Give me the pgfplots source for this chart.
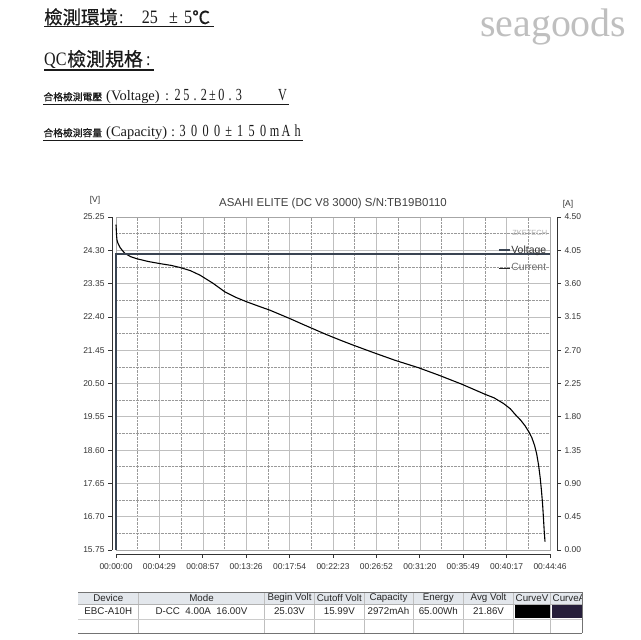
\documentclass[border=0pt]{standalone}
\usepackage{fontspec}
\setmainfont{Liberation Sans}
\newfontfamily\cjk[FakeBold=0.6]{Noto Sans CJK TC}
\newfontfamily\cjks[FakeBold=0.4]{Noto Sans CJK TC}
\newfontfamily\lser{Liberation Serif}
\newfontfamily\lsern[FakeStretch=0.85]{Liberation Serif}
\newfontfamily\lserc[FakeStretch=0.72]{Liberation Serif}
\usepackage{pgfplots}
\pgfplotsset{compat=1.18}
\definecolor{curc}{HTML}{3A4452}
\definecolor{hdrfill}{HTML}{E3E7EC}
\definecolor{curA}{HTML}{261E3A}
\definecolor{txt}{HTML}{1A1A1A}
\newcommand\C[2][8.75bp]{\makebox[#1][c]{#2}}
\begin{document}
\begin{tikzpicture}[x=1bp,y=1bp]
\fill[white] (0,0) rectangle (640,640);
\path[use as bounding box] (0,0) rectangle (640,640);

% ---------- header text ----------
\begin{scope}[every node/.style={inner sep=0pt, anchor=base west, text=txt}]
% line 1
\node at (44,616) {\cjk\fontsize{18.5}{19}\selectfont 檢測環境};
\node at (119,616) {\lsern\fontsize{19}{19}\selectfont :};
\node at (141.7,616) {\lsern\fontsize{19}{19}\selectfont 25};
\node at (169,616) {\lsern\fontsize{19}{19}\selectfont ±};
\node at (184,616) {\lsern\fontsize{19}{19}\selectfont 5};
\node at (192,616) {\cjks\fontsize{18}{19}\selectfont ℃};
% line 2
\node at (44,574) {\lsern\fontsize{19}{19}\selectfont QC};
\node at (67,574) {\cjk\fontsize{19}{19}\selectfont 檢測規格};
\node at (146,574) {\lsern\fontsize{19}{19}\selectfont :};
% line 3
\node at (43.3,539.5) {\cjks\fontsize{9.8}{10}\selectfont 合格檢測電壓};
\node at (106,539.5) {\lser\fontsize{14.5}{15}\selectfont (Voltage)};
\node at (165,539.5) {\lser\fontsize{14.5}{15}\selectfont :};
\node at (173,539.5) {\lserc\fontsize{17}{17}\selectfont \C{2}\C{5}\C{.}\C{2}\C{±}\C{0}\C{.}\C{3}};
\node at (278,539.5) {\lserc\fontsize{17}{17}\selectfont V};
% line 4
\node at (43.3,503.5) {\cjks\fontsize{9.8}{10}\selectfont 合格檢測容量};
\node at (106,503.5) {\lser\fontsize{14.5}{15}\selectfont (Capacity)};
\node at (171,503.5) {\lser\fontsize{14.5}{15}\selectfont :};
\node at (176.7,503.5) {\lserc\fontsize{17}{17}\selectfont \C[11.5bp]{3}\C[11.5bp]{0}\C[11.5bp]{0}\C[11.5bp]{0}\C[11.5bp]{±}\C[11.5bp]{1}\C[11.5bp]{5}\C[11.5bp]{0}\C[11.5bp]{m}\C[11.5bp]{A}\C[11.5bp]{h}};
% watermark
\node[text=black!25] at (480,603) {\lser\fontsize{40}{40}\selectfont seagoods};
\end{scope}
\draw[txt, line width=1.1bp] (44,613.3) -- (214,613.3);
\draw[txt, line width=1.1bp] (44,570) -- (154,570);
\draw[txt, line width=0.9bp] (43,536) -- (289,536);
\draw[txt, line width=0.9bp] (43,500) -- (303,500);

% ---------- chart titles ----------
\node[text=black!75, font=\fontsize{11.5}{12}\selectfont] at (333,436) {ASAHI ELITE (DC V8 3000) S/N:TB19B0110};
\node[text=black!80, font=\fontsize{8.5}{9}\selectfont] at (95,440) {[V]};
\node[text=black!80, font=\fontsize{8.5}{9}\selectfont] at (568,436) {[A]};

% ---------- voltage axis ----------
\begin{axis}[
  at={(116bp,90bp)}, anchor=south west,
  width=434bp, height=333bp, scale only axis,
  xmin=0, xmax=2686, ymin=15.75, ymax=25.25,
  axis x line*=bottom, axis y line*=left,
  axis x line shift=4bp, axis y line shift=4bp,
  axis line style={black!80, line width=0.8pt, -},
  xtick={0,268.6,537.2,805.8,1074.4,1343,1611.6,1880.2,2148.8,2417.4,2686},
  xticklabels={00:00:00,00:04:29,00:08:57,00:13:26,00:17:54,00:22:23,00:26:52,00:31:20,00:35:49,00:40:17,00:44:46},
  minor xtick={134.3,402.9,671.5,940.1,1208.7,1477.3,1745.9,2014.5,2283.1,2551.7},
  ytick={15.75,16.70,17.65,18.60,19.55,20.50,21.45,22.40,23.35,24.30,25.25},
  yticklabels={15.75,16.70,17.65,18.60,19.55,20.50,21.45,22.40,23.35,24.30,25.25},
  minor ytick={16.225,17.175,18.125,19.075,20.025,20.975,21.925,22.875,23.825,24.775},
  tick align=outside, major tick length=4bp, minor tick length=0pt,
  tick style={black!80, line width=0.7pt},
  grid=both,
  major grid style={black!25, line width=0.6pt},
  minor grid style={black!40, densely dotted, line width=0.5pt},
  ticklabel style={font=\fontsize{8.5}{9}\selectfont, text=black!80},
  xticklabel style={yshift=-2bp},
  clip=false,
]
\draw[black!35, line width=0.6pt] (rel axis cs:0,0) rectangle (rel axis cs:1,1);
\addplot[black, line width=1.1pt] coordinates {
(0,25.03) (1,24.95) (3,24.75) (6,24.60) (12,24.50) (25,24.38) (40,24.29)
(56,24.21) (90,24.12) (128,24.06) (200,23.98) (272,23.92) (340,23.87)
(396,23.81) (460,23.72) (520,23.59) (600,23.36) (675,23.11) (740,22.96)
(809,22.83) (880,22.71) (953,22.59) (1077,22.35) (1150,22.20) (1240,22.02)
(1300,21.90) (1386,21.74) (1459,21.61) (1594,21.38) (1728,21.16) (1872,20.95)
(1996,20.74) (2140,20.48) (2285,20.19) (2340,20.09) (2398,19.93) (2440,19.78)
(2470,19.62) (2505,19.45) (2532,19.29) (2555,19.12) (2573,18.96) (2590,18.74)
(2604,18.48) (2615,18.18) (2625,17.82) (2633,17.45) (2640,17.06) (2645,16.70)
(2650,16.30) (2655,15.99)
};
\end{axis}

% ---------- current axis ----------
\begin{axis}[
  at={(116bp,90bp)}, anchor=south west,
  width=434bp, height=333bp, scale only axis,
  xmin=0, xmax=2686, ymin=0, ymax=4.5,
  axis x line=none, axis y line*=right,
  axis y line shift=7bp,
  axis line style={black!80, line width=0.8pt, -},
  ytick={0,0.45,0.9,1.35,1.8,2.25,2.7,3.15,3.6,4.05,4.5},
  yticklabels={0.00,0.45,0.90,1.35,1.80,2.25,2.70,3.15,3.60,4.05,4.50},
  tick align=outside, major tick length=4bp,
  tick style={black!80, line width=0.7pt},
  ticklabel style={font=\fontsize{8.5}{9}\selectfont, text=black!80},
  clip=false,
  legend style={draw=none, fill=none, at={(rel axis cs:0.994,0.918)}, anchor=north east,
     font=\fontsize{10.5}{11}\selectfont, row sep=7bp, inner sep=0pt,
     nodes={inner sep=1bp}},
  legend cell align=right,
  legend image code/.code={\draw[#1] (0bp,0bp) -- (11bp,0bp);},
]
\addplot[curc, line width=1.1pt] coordinates {(0,0) (0,4.0) (2686,4.0)};
\addlegendimage{black!85, line width=0.8pt}
\addlegendentry{\textcolor{black!80}{Voltage}}
\addlegendimage{black!55, line width=0.8pt}
\addlegendentry{\textcolor{black!55}{Current}}
\node[anchor=east, inner sep=0pt, text=black!30, font=\fontsize{7.5}{8}\selectfont] at (rel axis cs:0.994,0.953) {ZKETECH};
\end{axis}

% ---------- table ----------
\fill[hdrfill] (78,36) rectangle (582,48);
\foreach \xx in {138.5,264.5,314.5,364,413,463.5,513.5,550.5} {\draw[black!25, line width=0.5pt] (\xx,7) -- (\xx,48);}
\draw[black!30, line width=0.5pt] (78,36) -- (582,36);
\draw[black!20, line width=0.5pt] (78,21) -- (582,21);
\draw[black!55, line width=0.7pt] (78,48) -- (582,48);
\draw[black!55, line width=0.7pt] (78,7) -- (582,7);
\draw[black!55, line width=0.7pt] (582,7) -- (582,48);
\fill[black] (514.5,22) rectangle (550,35);
\fill[curA] (551.5,22) rectangle (581.5,35);
\begin{scope}[every node/.style={inner sep=0pt, text=black!85, font=\fontsize{9.8}{10}\selectfont}]
\node at (108.3,42) {Device};
\node at (201.5,42) {Mode};
\node at (289.5,42) {Begin Volt};
\node at (339.3,42) {Cutoff Volt};
\node at (388.5,42) {Capacity};
\node at (438.3,42) {Energy};
\node at (488.5,42) {Avg Volt};
\node at (532,42) {CurveV};
\node at (108.3,28.5) {EBC-A10H};
\node at (201.5,28.5) {D-CC\ \ 4.00A\ \ 16.00V};
\node at (289.5,28.5) {25.03V};
\node at (339.3,28.5) {15.99V};
\node at (388.5,28.5) {2972mAh};
\node at (438.3,28.5) {65.00Wh};
\node at (488.5,28.5) {21.86V};
\begin{scope}
\clip (551,36) rectangle (581.5,48);
\node[anchor=west] at (552.5,42) {CurveA};
\end{scope}
\end{scope}
\end{tikzpicture}
\end{document}
